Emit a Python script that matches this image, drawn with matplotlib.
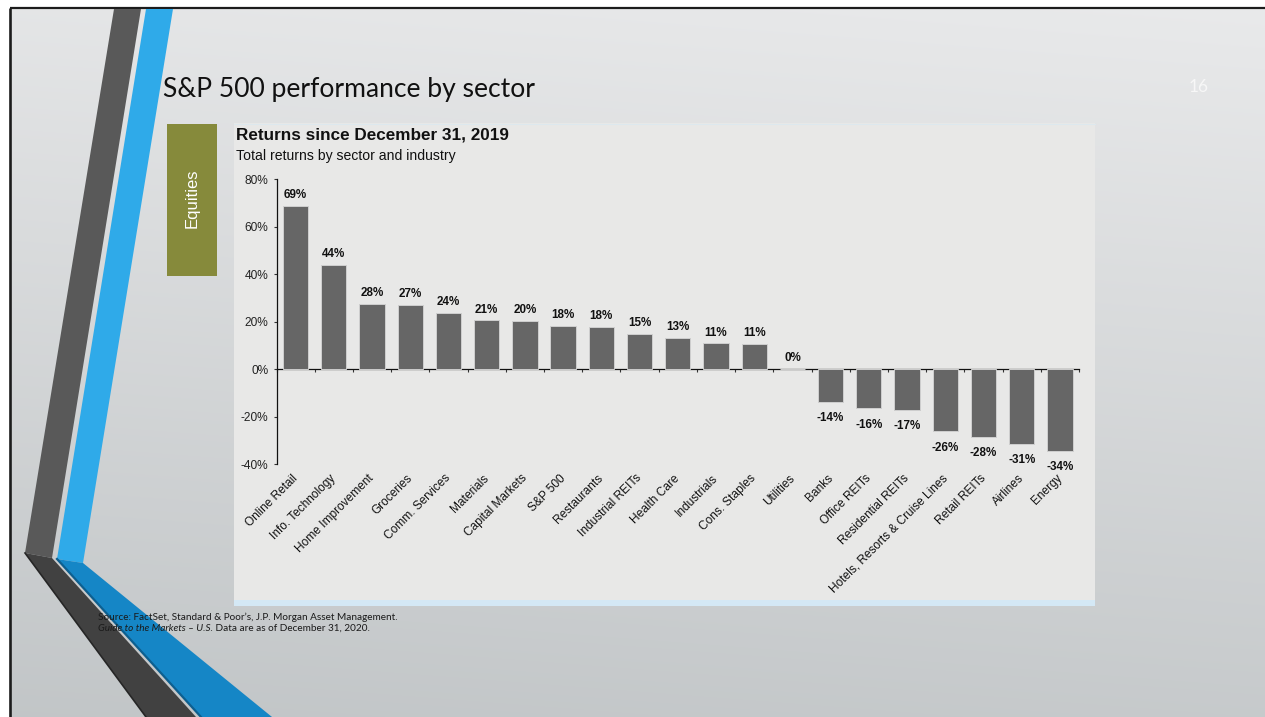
import numpy as np
import matplotlib
matplotlib.use("Agg")
import matplotlib.pyplot as plt
from matplotlib.patches import Polygon, Rectangle
from matplotlib import transforms

# ---- data -------------------------------------------------------------
categories = ["Online Retail", "Info. Technology", "Home Improvement", "Groceries",
              "Comm. Services", "Materials", "Capital Markets", "S&P 500",
              "Restaurants", "Industrial REITs", "Health Care", "Industrials",
              "Cons. Staples", "Utilities", "Banks", "Office REITs",
              "Residential REITs", "Hotels, Resorts & Cruise Lines",
              "Retail REITs", "Airlines", "Energy"]
returns = [68.8, 43.8, 27.7, 27.2, 23.6, 20.6, 20.2, 18.2, 17.7, 15.0, 13.2,
           10.9, 10.6, 0.3, -13.7, -16.4, -17.0, -26.1, -28.4, -31.4, -34.2]
y_ticks = [-40, -20, 0, 20, 40, 60, 80]

slide_title = "S&P 500 performance by sector"
chart_title = "Returns since December 31, 2019"
chart_subtitle = "Total returns by sector and industry"
section_label = "Equities"
page_number = "16"
source_line1 = "Source: FactSet, Standard & Poor\u2019s, J.P. Morgan Asset Management."
source_line2_italic = "Guide to the Markets \u2013 U.S."
source_line2_rest = " Data are as of December 31, 2020."

# ---- slide canvas (pixel coordinates, y downwards) --------------------
W, H = 1265, 717
fig = plt.figure(figsize=(W / 100, H / 100), dpi=100)
bg = fig.add_axes([0, 0, 1, 1])
bg.set_xlim(0, W)
bg.set_ylim(H, 0)
bg.axis("off")

# soft grey background gradient
yy, xx = np.mgrid[0:H, 0:W]
t = np.clip(0.88 * yy / H + 0.12 * (1 - xx / W), 0, 1)[..., None]
top = np.array([0.915, 0.918, 0.922])
bottom = np.array([0.760, 0.775, 0.782])
grad = top * (1 - t) + bottom * t
bg.imshow(grad, extent=[0, W, H, 0], aspect="auto", zorder=0, interpolation="bilinear")

# white margin and slide border
bg.add_patch(Rectangle((0, 0), W, 7.5, color="white", zorder=1))
bg.add_patch(Rectangle((0, 0), 8.5, H, color="white", zorder=1))
bg.plot([9.5, W], [8.3, 8.3], color="#1c1c1c", lw=1.6, zorder=2, solid_capstyle="butt")
bg.plot([9.5, 9.5], [8.3, H], color="#1c1c1c", lw=1.9, zorder=2, solid_capstyle="butt")

# decorative stripes
stripes = [
    ([(114, 9), (141, 9), (52, 558), (25, 553)], "#595959"),
    ([(146, 9), (173, 9), (83, 563), (57, 559)], "#2faae9"),
    ([(25, 553), (52, 558), (196, 717), (146, 717)], "#414141"),
    ([(57, 559), (83, 563), (272, 717), (201, 717)], "#1586c6"),
]
for pts, col in stripes:
    bg.add_patch(Polygon(pts, closed=True, facecolor=col, edgecolor="none", zorder=3))
# shaded edges on the lower bands
bg.plot([25, 146], [553, 717], color="#262626", lw=1.2, zorder=3)
bg.plot([57, 201], [559, 717], color="#0d5f8f", lw=1.6, zorder=3)

# slide title and page number
bg.text(163, 89, slide_title, fontsize=19.1, family="Lato", color="#111111",
        ha="left", va="center", zorder=5)
bg.text(1199, 87, page_number, fontsize=12.5, family="Lato", color="#f7f7f7",
        ha="center", va="center", zorder=5)

# section tag
bg.add_patch(Rectangle((167, 124), 50, 152, facecolor="#868a3b", edgecolor="none", zorder=4))
bg.text(192, 198, section_label, rotation=90, fontsize=12, family="Liberation Sans",
        color="white", ha="center", va="center", zorder=5)

# chart panel
bg.add_patch(Rectangle((234, 123), 861, 483, facecolor="#e8e8e7", edgecolor="none", zorder=4))
bg.add_patch(Rectangle((234, 600), 861, 6, facecolor="#d4e8f5", edgecolor="none", zorder=4))
bg.plot([234, 1095], [123.5, 123.5], color="#dde8ee", lw=0.8, zorder=4)

bg.text(236, 135, chart_title, fontsize=12.3, family="Liberation Sans",
        fontweight="bold", color="#111111", ha="left", va="center", zorder=5)
bg.text(236, 156, chart_subtitle, fontsize=10.1, family="Liberation Sans",
        color="#111111", ha="left", va="center", zorder=5)

# source note
src_kw = dict(fontsize=7.2, family="Lato", color="#1a1a1a", ha="left", va="center", zorder=6)
bg.text(98, 617, source_line1, **src_kw)
t_it = bg.text(98, 628.5, source_line2_italic, style="italic", **src_kw)
fig.canvas.draw()
ext = t_it.get_window_extent()
bg.text(98 + ext.width, 628.5, source_line2_rest, **src_kw)

# ---- bar chart ---------------------------------------------------------
x0, x1 = 276.5, 1079.0
y_top, y_bot = 179.3, 464.3
ax = fig.add_axes([x0 / W, 1 - y_bot / H, (x1 - x0) / W, (y_bot - y_top) / H])
ax.set_facecolor("none")
ax.set_zorder(10)

xpos = np.arange(len(categories))
ax.bar(xpos, returns, width=0.66, color="#666666", edgecolor="#cfcfcf",
       linewidth=0.7, zorder=3)

ax.set_xlim(-0.5, len(categories) - 0.5)
ax.set_ylim(-40, 80)

for side in ("top", "right"):
    ax.spines[side].set_visible(False)
ax.spines["bottom"].set_position(("data", 0))
ax.spines["bottom"].set_color("#111111")
ax.spines["bottom"].set_linewidth(0.9)
ax.spines["left"].set_color("#111111")
ax.spines["left"].set_linewidth(0.9)

ax.set_xticks(np.arange(-0.5, len(categories), 1.0))
ax.set_xticklabels([])
ax.tick_params(axis="x", direction="out", length=2.4, width=0.8, color="#333333")

ax.set_yticks(y_ticks)
ax.set_yticklabels([f"{v}%" for v in y_ticks], family="Liberation Sans",
                   fontsize=8.6, color="#222222")
ax.tick_params(axis="y", direction="out", length=2.4, width=0.8, pad=3.5, color="#333333")

# value labels
for xi, v in zip(xpos, returns):
    if v >= 0:
        ax.annotate(f"{v:.0f}%", (xi, v), xytext=(0, 3.5), textcoords="offset points",
                    ha="center", va="bottom", fontsize=8.4, fontweight="bold",
                    family="Liberation Sans", color="#111111")
    else:
        ax.annotate(f"{v:.0f}%", (xi, v), xytext=(0, -7.5), textcoords="offset points",
                    ha="center", va="top", fontsize=8.4, fontweight="bold",
                    family="Liberation Sans", color="#111111")

# category labels below the plot area
lab_tr = transforms.offset_copy(
    transforms.blended_transform_factory(ax.transData, ax.transAxes),
    fig=fig, x=4.5, y=-8.0, units="dots")
for xi, name in zip(xpos, categories):
    ax.text(xi, 0, name, transform=lab_tr, rotation=45, ha="right", va="top",
            fontsize=8.6, family="Liberation Sans", color="#111111")

fig.savefig("out.png", dpi=100)
